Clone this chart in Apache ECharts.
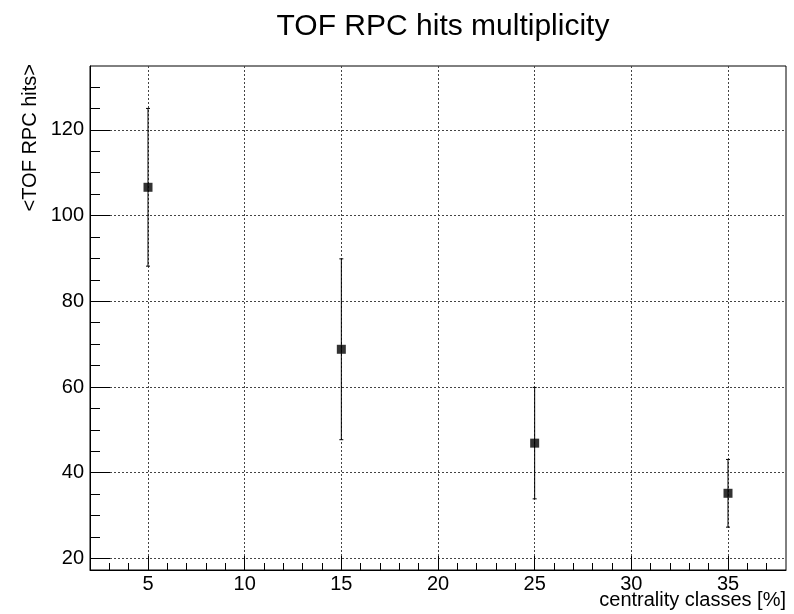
<!DOCTYPE html>
<html><head><meta charset="utf-8">
<script src="https://cdn.jsdelivr.net/npm/echarts@6/dist/echarts.min.js"></script>
<style>html,body{margin:0;padding:0;background:#fff}#c{width:794px;height:614px}</style>
</head><body><div id="c"></div>
<script>
const categories = [5, 15, 25, 35];
const meanHits = [106.6, 68.8, 46.9, 35.2];
const errHits = [18.4, 21.1, 13.0, 7.9];
const xMajorTicks = [5, 10, 15, 20, 25, 30, 35];
const xMinorTicks = [3, 4, 6, 7, 8, 9, 11, 12, 13, 14, 16, 17, 18, 19, 21, 22, 23, 24, 26, 27, 28, 29, 31, 32, 33, 34, 36, 37];
const yMajorTicks = [20, 40, 60, 80, 100, 120];
const yMinorTicks = [25, 30, 35, 45, 50, 55, 65, 70, 75, 85, 90, 95, 105, 110, 115, 125, 130];
const titleText = 'TOF RPC hits multiplicity';
const xTitle = 'centrality classes [%]';
const yTitle = '<TOF RPC hits>';

const FONT = '"Liberation Sans", Arial, Helvetica, sans-serif';
const X_MIN = 2, X_MAX = 38, Y_MIN = 17.3, Y_MAX = 134.9;

const pts = categories.map((c, i) => [c, meanHits[i]]);
const errData = categories.map((c, i) => [c, meanHits[i], errHits[i]]);

const dotted = { show: true, lineStyle: { color: '#444', width: 1, type: [2, 2] } };

const chart = echarts.init(document.getElementById('c'), null, { renderer: 'canvas' });
chart.setOption({
  animation: false,
  backgroundColor: '#fff',
  grid: { left: 90, top: 66, right: 8, bottom: 44, show: true, borderColor: '#000', borderWidth: 1, backgroundColor: 'transparent' },
  graphic: [
    { type: 'text', x: 443, y: 42, style: { text: titleText, font: '30px ' + FONT, fill: '#000', textAlign: 'center', textVerticalAlign: 'bottom' } },
    { type: 'text', x: 786, y: 600, style: { text: xTitle, font: '20px ' + FONT, fill: '#000', textAlign: 'right', textVerticalAlign: 'middle' } },
    { type: 'text', x: 30, y: 64, rotation: Math.PI / 2, style: { text: yTitle, font: '20px ' + FONT, fill: '#000', textAlign: 'right', textVerticalAlign: 'middle' } }
  ],
  xAxis: [
    {
      type: 'value', min: X_MIN, max: X_MAX, position: 'bottom',
      axisLine: { show: true, onZero: false, lineStyle: { color: '#000', width: 1 } },
      axisTick: { show: true, inside: true, length: 14, customValues: xMajorTicks, lineStyle: { color: '#000' } },
      axisLabel: { show: true, customValues: xMajorTicks, margin: 4, fontSize: 20, color: '#000', fontFamily: FONT },
      splitLine: Object.assign({ customValues: xMajorTicks }, dotted)
    },
    {
      type: 'value', min: X_MIN, max: X_MAX, position: 'bottom',
      axisLine: { show: false },
      axisTick: { show: true, inside: true, length: 7, customValues: xMinorTicks, lineStyle: { color: '#000' } },
      axisLabel: { show: false },
      splitLine: { show: false }
    }
  ],
  yAxis: [
    {
      type: 'value', min: Y_MIN, max: Y_MAX, position: 'left',
      axisLine: { show: true, onZero: false, lineStyle: { color: '#000', width: 1 } },
      axisTick: { show: true, inside: true, length: 20, customValues: yMajorTicks, lineStyle: { color: '#000' } },
      axisLabel: { show: true, customValues: yMajorTicks, margin: 6, fontSize: 20, color: '#000', fontFamily: FONT },
      splitLine: Object.assign({ customValues: yMajorTicks }, dotted)
    },
    {
      type: 'value', min: Y_MIN, max: Y_MAX, position: 'left',
      axisLine: { show: false },
      axisTick: { show: true, inside: true, length: 10, customValues: yMinorTicks, lineStyle: { color: '#000' } },
      axisLabel: { show: false },
      splitLine: { show: false }
    }
  ],
  series: [
    {
      type: 'custom',
      xAxisIndex: 0, yAxisIndex: 0,
      data: errData,
      z: 3,
      renderItem: function (params, api) {
        const x = api.value(0), y = api.value(1), e = api.value(2);
        const top = api.coord([x, y + e]);
        const bot = api.coord([x, y - e]);
        const cap = 2;
        const st = { stroke: '#000', lineWidth: 1 };
        return {
          type: 'group',
          children: [
            { type: 'line', shape: { x1: top[0], y1: top[1], x2: bot[0], y2: bot[1] }, style: st },
            { type: 'line', shape: { x1: top[0] - cap, y1: top[1], x2: top[0] + cap, y2: top[1] }, style: st },
            { type: 'line', shape: { x1: bot[0] - cap, y1: bot[1], x2: bot[0] + cap, y2: bot[1] }, style: st }
          ]
        };
      }
    },
    {
      type: 'scatter',
      xAxisIndex: 0, yAxisIndex: 0,
      data: pts,
      symbol: 'rect',
      symbolSize: 9,
      itemStyle: { color: '#000' },
      z: 4
    }
  ]
});
</script></body></html>
